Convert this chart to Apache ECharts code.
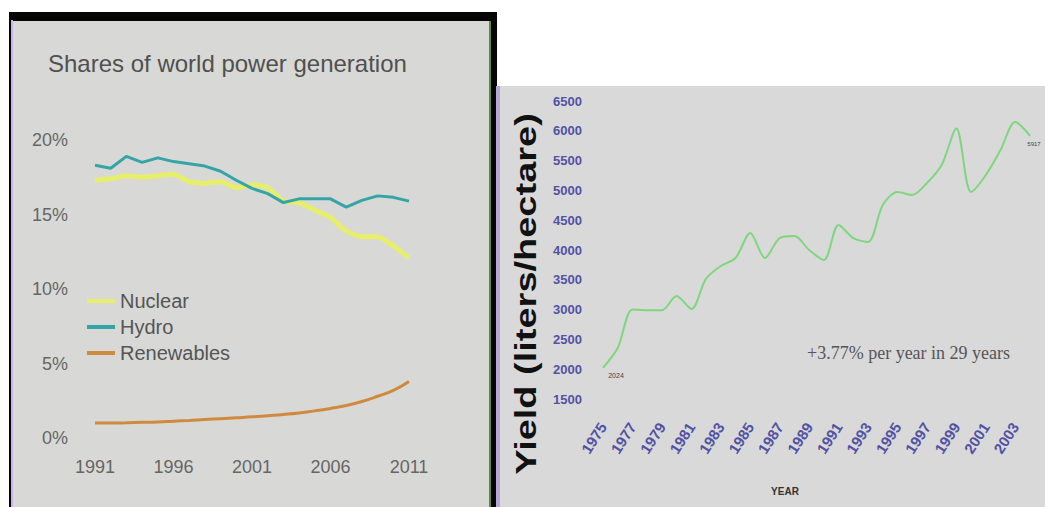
<!DOCTYPE html>
<html><head><meta charset="utf-8">
<script src="https://cdn.jsdelivr.net/npm/echarts@6.0.0/dist/echarts.min.js"></script>
<style>
html,body{margin:0;padding:0;background:#fff;}
#wrap{position:relative;width:1045px;height:507px;overflow:hidden;background:#fff;}
.b{position:absolute;}
#chart{position:absolute;left:0;top:0;width:1045px;height:507px;}
</style></head><body>
<div id="wrap">
  <div class="b" style="left:9px;top:12px;width:488px;height:495px;background:#050505;"></div>
  <div class="b" style="left:11px;top:20px;width:2px;height:487px;background:#c7b6e2;"></div>
  <div class="b" style="left:13px;top:21px;width:476px;height:486px;background:#d8d9d6;"></div>
  <div class="b" style="left:489px;top:21px;width:2px;height:486px;background:#5d8c3c;"></div>
  <div class="b" style="left:496px;top:86px;width:4px;height:421px;background:#b7a6d8;"></div>
  <div class="b" style="left:500px;top:86px;width:545px;height:421px;background:#d9d9d9;"></div>
  <div id="chart"></div>
</div>
<script>
// ---- Left chart: Shares of world power generation (%)
const powerYears = [1991,1992,1993,1994,1995,1996,1997,1998,1999,2000,2001,2002,2003,2004,2005,2006,2007,2008,2009,2010,2011];
const nuclear    = [17.3,17.4,17.6,17.5,17.6,17.7,17.2,17.1,17.2,16.8,17.0,16.8,15.9,15.8,15.3,14.8,13.9,13.5,13.5,12.9,12.1];
const hydro      = [18.3,18.1,18.9,18.5,18.8,18.55,18.4,18.25,17.9,17.3,16.75,16.4,15.8,16.05,16.05,16.05,15.5,15.95,16.25,16.15,15.9];
const renewables = [1.0,1.0,1.02,1.05,1.08,1.13,1.18,1.24,1.3,1.36,1.42,1.5,1.58,1.68,1.82,1.98,2.18,2.45,2.8,3.2,3.8];
const powerTicks = [0,5,10,15,20];
const powerXTicks = [1991,1996,2001,2006,2011];

// ---- Right chart: ethanol yield (liters/hectare)
const yieldYears  = ['1975','1976','1977','1978','1979','1980','1981','1982','1983','1984','1985','1986','1987','1988','1989','1990','1991','1992','1993','1994','1995','1996','1997','1998','1999','2000','2001','2002','2003','2004'];
const yieldValues = [2024,2356,3000,2990,2990,3228,3010,3520,3732,3866,4285,3866,4200,4235,4000,3832,4420,4200,4134,4755,4973,4923,5124,5426,6040,4973,5258,5678,6148,5917];
const yieldTicks  = [1500,2000,2500,3000,3500,4000,4500,5000,5500,6000,6500];

const pair = (xs, ys) => xs.map((x, i) => [x, ys[i]]);
const yieldData = yieldValues.map((v, i) => {
  if (i === 0) return {value: v, label: {show: true, position: 'bottom', offset: [13, -1], fontSize: 7, color: '#444', formatter: String(v)}};
  if (i === yieldValues.length - 1) return {value: v, label: {show: true, position: 'bottom', offset: [4, 0], fontSize: 6, color: '#444', formatter: String(v)}};
  return v;
});

const chart = echarts.init(document.getElementById('chart'), null, {renderer: 'svg'});
const lf = '"Liberation Sans", Arial, sans-serif';
const lblBlue = '#5252a4';
chart.setOption({
  backgroundColor: 'transparent',
  animation: false,
  title: [{
    text: 'Shares of world power generation', left: 43, top: 46,
    textStyle: {fontSize: 24, fontWeight: 'normal', color: '#505050', fontFamily: lf}
  }],
  legend: {
    data: ['Nuclear', 'Hydro', 'Renewables'],
    orient: 'vertical', left: 82, top: 286, itemGap: 6,
    itemWidth: 28, itemHeight: 4, icon: 'rect',
    textStyle: {fontSize: 20, color: '#555', fontFamily: lf}
  },
  grid: [
    {left: 95, right: 636, top: 140, bottom: 69},
    {left: 603, right: 15, top: 101, bottom: 108}
  ],
  xAxis: [
    {type: 'value', gridIndex: 0, min: 1991, max: 2011, interval: 5,
     axisLine: {show: false}, axisTick: {show: false}, splitLine: {show: false},
     axisLabel: {margin: 20, fontSize: 18, color: '#666', fontFamily: lf,
       formatter: v => powerXTicks.includes(v) ? String(v) : ''}},
    {type: 'category', gridIndex: 1, data: yieldYears, boundaryGap: false,
     axisLine: {show: false}, axisTick: {show: false}, splitLine: {show: false},
     axisLabel: {interval: 1, rotate: 57, margin: 25, fontSize: 15, fontWeight: 'bold', color: lblBlue,
       fontFamily: lf}}
  ],
  yAxis: [
    {type: 'value', gridIndex: 0, min: 0, max: 20, interval: 5,
     axisLine: {show: false}, axisTick: {show: false}, splitLine: {show: false},
     axisLabel: {margin: 27, fontSize: 18, color: '#666', fontFamily: lf,
       formatter: v => powerTicks.includes(v) ? v + '%' : ''}},
    {type: 'value', gridIndex: 1, min: 1500, max: 6500, interval: 500,
     axisLine: {show: false}, axisTick: {show: false}, splitLine: {show: false},
     axisLabel: {margin: 21, fontSize: 13, fontWeight: 'bold', color: lblBlue, fontFamily: lf,
       formatter: v => yieldTicks.includes(v) ? String(v) : ''}}
  ],
  graphic: [
    {type: 'text', x: 526, y: 294, rotation: Math.PI / 2, scaleX: 1.31,
     style: {text: 'Yield (liters/hectare)', font: 'bold 29px ' + lf, fill: '#111',
       align: 'center', verticalAlign: 'middle', textAlign: 'center', textVerticalAlign: 'middle'}},
    {type: 'text', x: 807, y: 353,
     style: {text: '+3.77% per year in 29 years', font: '18px "Liberation Serif", "Times New Roman", serif', fill: '#555',
       align: 'left', verticalAlign: 'middle', textAlign: 'left', textVerticalAlign: 'middle'}},
    {type: 'text', x: 785, y: 491,
     style: {text: 'YEAR', font: 'bold 10px ' + lf, fill: '#333',
       align: 'center', verticalAlign: 'middle', textAlign: 'center', textVerticalAlign: 'middle'}}
  ],
  series: [
    {name: 'Nuclear', type: 'line', xAxisIndex: 0, yAxisIndex: 0, data: pair(powerYears, nuclear),
     showSymbol: false, smooth: 0.2, lineStyle: {width: 5, color: '#e6ee6c'}, itemStyle: {color: '#e6ee6c'}},
    {name: 'Hydro', type: 'line', xAxisIndex: 0, yAxisIndex: 0, data: pair(powerYears, hydro),
     showSymbol: false, lineStyle: {width: 3, color: '#35a4a6'}, itemStyle: {color: '#35a4a6'}},
    {name: 'Renewables', type: 'line', xAxisIndex: 0, yAxisIndex: 0, data: pair(powerYears, renewables),
     showSymbol: false, smooth: true, lineStyle: {width: 3, color: '#cf8a3f'}, itemStyle: {color: '#cf8a3f'}},
    {name: 'Yield', type: 'line', xAxisIndex: 1, yAxisIndex: 1, data: yieldData,
     showSymbol: true, showAllSymbol: true, symbol: 'circle', symbolSize: 0.1,
     smooth: 0.3, lineStyle: {width: 2, color: '#7fd67f'}, itemStyle: {color: '#7fd67f'}}
  ]
});
</script>
</body></html>
